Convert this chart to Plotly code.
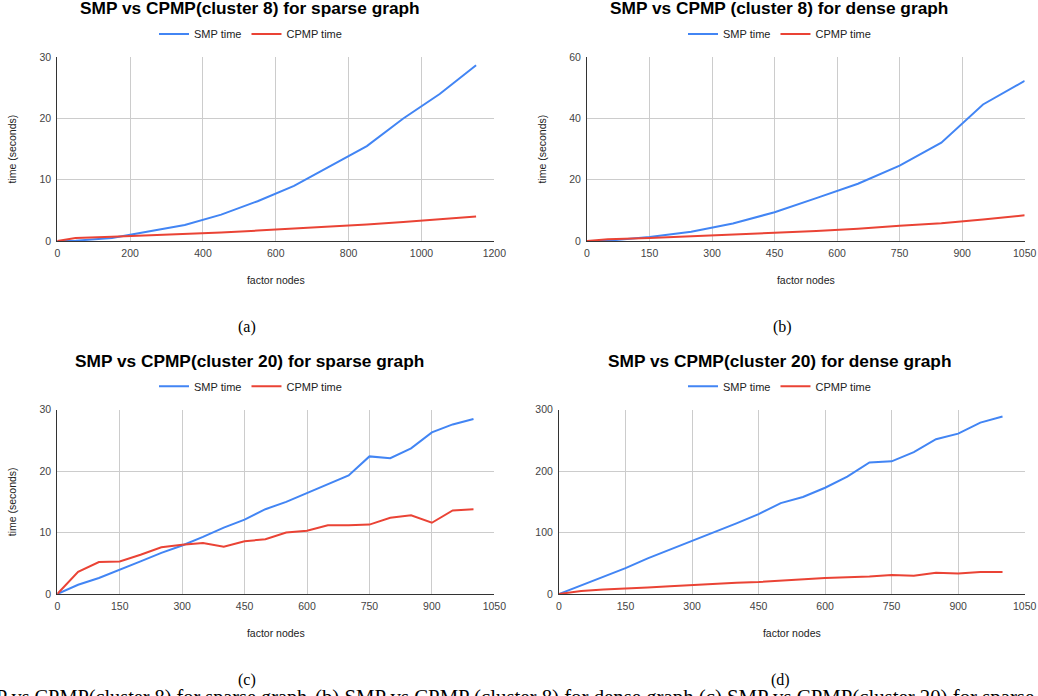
import plotly.graph_objects as go

# ---------------- data ----------------
x_a = [0, 50, 150, 250, 350, 450, 550, 650, 750, 850, 950, 1050, 1150]
smp_a = [0, 0.05, 0.5, 1.5, 2.6, 4.3, 6.5, 9.0, 12.2, 15.5, 20.0, 24.0, 28.7]
cpmp_a = [0, 0.5, 0.7, 0.9, 1.1, 1.4, 1.7, 2.0, 2.3, 2.7, 3.1, 3.5, 4.0]

x_b = [0, 50, 150, 250, 350, 450, 550, 650, 750, 850, 950, 1050]
smp_b = [0, 0.1, 1.3, 3.0, 5.7, 9.4, 14.0, 18.7, 24.6, 32.1, 44.6, 52.3]
cpmp_b = [0, 0.6, 1.0, 1.5, 2.0, 2.7, 3.3, 4.0, 5.0, 5.8, 7.0, 8.4]

x_cd = [0, 50, 100, 150, 200, 250, 300, 350, 400, 450, 500,
        550, 600, 650, 700, 750, 800, 850, 900, 950, 1000]
smp_c = [0, 1.5, 2.6, 3.9, 5.3, 6.7, 7.9, 9.3, 10.8, 12.1, 13.8,
         15.0, 16.4, 17.9, 19.3, 22.4, 22.1, 23.7, 26.3, 27.6, 28.5]
cpmp_c = [0, 3.6, 5.2, 5.3, 6.4, 7.6, 8.0, 8.3, 7.7, 8.6, 8.9,
          10.0, 10.3, 11.2, 11.2, 11.3, 12.4, 12.8, 11.6, 13.6, 13.8]
smp_d = [0, 14, 28, 42, 58, 72, 87, 100, 115, 130, 148,
         158, 173, 191, 214, 216, 231, 252, 261, 279, 289]
cpmp_d = [0, 5, 7.5, 8.6, 10.5, 12.5, 14.6, 16.5, 18.2, 19.4, 22.0,
          24.0, 26.0, 27.3, 28.5, 31.0, 29.7, 34.5, 33.5, 36.0, 36.0]

titles = ["SMP vs CPMP(cluster 8) for sparse graph",
          "SMP vs CPMP (cluster 8) for dense graph",
          "SMP vs CPMP(cluster 20) for sparse graph",
          "SMP vs CPMP(cluster 20) for dense graph"]
captions = ["(a)", "(b)", "(c)", "(d)"]
series_names = ["SMP time", "CPMP time"]
x_title = "factor nodes"
y_title = "time (seconds)"
bottom_left = "(a) SMP vs CPMP(cluster 8) for sparse graph"
bottom_right = ("(b) SMP vs CPMP (cluster 8) for dense graph (c) SMP vs CPMP(cluster 20) "
                "for sparse graph (d) SMP vs CPMP(cluster 20) for dense graph")

# ---------------- layout helpers ----------------
W, H = 1038, 696
BLUE, RED = "#4285F4", "#EA4335"
SANS = "Liberation Sans, Arial, sans-serif"
SERIF = "Liberation Serif, Times New Roman, serif"


def px(x):
    return x / W


def py(y):
    return 1 - y / H


panels = [
    dict(x=x_a, s=smp_a, c=cpmp_a, xd=(57.3, 494.3), yd=(57.3, 241), xr=[0, 1200], xt=200,
         yr=[0, 30], yt=10, ytitle=True, title_xy=(250, 8.5), leg_xy=(250.5, 34), cap_xy=(247, 327)),
    dict(x=x_b, s=smp_b, c=cpmp_b, xd=(587, 1024.7), yd=(57.3, 241), xr=[0, 1050], xt=150,
         yr=[0, 60], yt=20, ytitle=True, title_xy=(779.3, 8.5), leg_xy=(779.5, 34), cap_xy=(782, 327)),
    dict(x=x_cd, s=smp_c, c=cpmp_c, xd=(57.3, 494.3), yd=(409.7, 594), xr=[0, 1050], xt=150,
         yr=[0, 30], yt=10, ytitle=True, title_xy=(249.5, 360.7), leg_xy=(250.5, 386.3), cap_xy=(247, 680)),
    dict(x=x_cd, s=smp_d, c=cpmp_d, xd=(559, 1024.7), yd=(409.7, 594), xr=[0, 1050], xt=150,
         yr=[0, 300], yt=100, ytitle=False, title_xy=(779.3, 360.7), leg_xy=(779.5, 386.3), cap_xy=(780, 680)),
]

fig = go.Figure()
annotations = []
layout_updates = {}

for i, p in enumerate(panels, start=1):
    sfx = "" if i == 1 else str(i)
    leg = "legend" if i == 1 else f"legend{i}"
    fig.add_trace(go.Scatter(x=p["x"], y=p["s"], mode="lines", name=series_names[0],
                             line=dict(color=BLUE, width=2), xaxis=f"x{sfx}", yaxis=f"y{sfx}",
                             legend=leg))
    fig.add_trace(go.Scatter(x=p["x"], y=p["c"], mode="lines", name=series_names[1],
                             line=dict(color=RED, width=2), xaxis=f"x{sfx}", yaxis=f"y{sfx}",
                             legend=leg))
    layout_updates[f"xaxis{sfx}"] = dict(
        domain=[px(p["xd"][0]), px(p["xd"][1])], range=p["xr"], dtick=p["xt"], tick0=0,
        anchor=f"y{sfx}", showgrid=True, gridcolor="#cccccc", gridwidth=1, zeroline=False,
        showline=True, linecolor="#333333", linewidth=1, ticks="", ticklabelstandoff=2,
        tickfont=dict(family=SANS, size=10.5, color="#444444"), automargin=False,
        title=dict(text=x_title, font=dict(family=SANS, size=10.5, color="#222222"), standoff=19),
    )
    layout_updates[f"yaxis{sfx}"] = dict(
        domain=[py(p["yd"][1]), py(p["yd"][0])], range=p["yr"], dtick=p["yt"], tick0=0,
        anchor=f"x{sfx}", showgrid=True, gridcolor="#cccccc", gridwidth=1, zeroline=False,
        showline=True, linecolor="#333333", linewidth=1, ticks="", ticklabelstandoff=3,
        tickfont=dict(family=SANS, size=10.5, color="#444444"), automargin=False,
        title=dict(text=y_title if p["ytitle"] else "", font=dict(family=SANS, size=10.5, color="#222222"),
                   standoff=20),
    )
    layout_updates[leg] = dict(
        orientation="h", x=px(p["leg_xy"][0]), y=py(p["leg_xy"][1]), xanchor="center", yanchor="middle",
        font=dict(family=SANS, size=11, color="#222222"), itemwidth=30, bgcolor="rgba(0,0,0,0)",
        tracegroupgap=0,
    )
    annotations.append(dict(
        text=f"<b>{titles[i-1]}</b>", x=px(p["title_xy"][0]), y=py(p["title_xy"][1]),
        xref="paper", yref="paper", xanchor="center", yanchor="middle", showarrow=False,
        font=dict(family=SANS, size=17.3, color="#000000")))
    annotations.append(dict(
        text=captions[i-1], x=px(p["cap_xy"][0]), y=py(p["cap_xy"][1]),
        xref="paper", yref="paper", xanchor="center", yanchor="middle", showarrow=False,
        font=dict(family=SERIF, size=16, color="#000000")))

annotations.append(dict(text=bottom_left, x=px(309), y=py(697), xref="paper", yref="paper",
                        xanchor="right", yanchor="middle", showarrow=False,
                        font=dict(family=SERIF, size=20.3, color="#000000")))
annotations.append(dict(text=bottom_right, x=px(313), y=py(697), xref="paper", yref="paper",
                        xanchor="left", yanchor="middle", showarrow=False,
                        font=dict(family=SERIF, size=20.8, color="#000000")))

fig.update_layout(
    width=W, height=H, margin=dict(l=0, r=0, t=0, b=0),
    paper_bgcolor="white", plot_bgcolor="white",
    annotations=annotations, showlegend=True,
    **layout_updates,
)

fig.write_html("out.html", config={"displayModeBar": False},
               post_script="document.body.style.margin='0';document.body.style.overflow='hidden';")
